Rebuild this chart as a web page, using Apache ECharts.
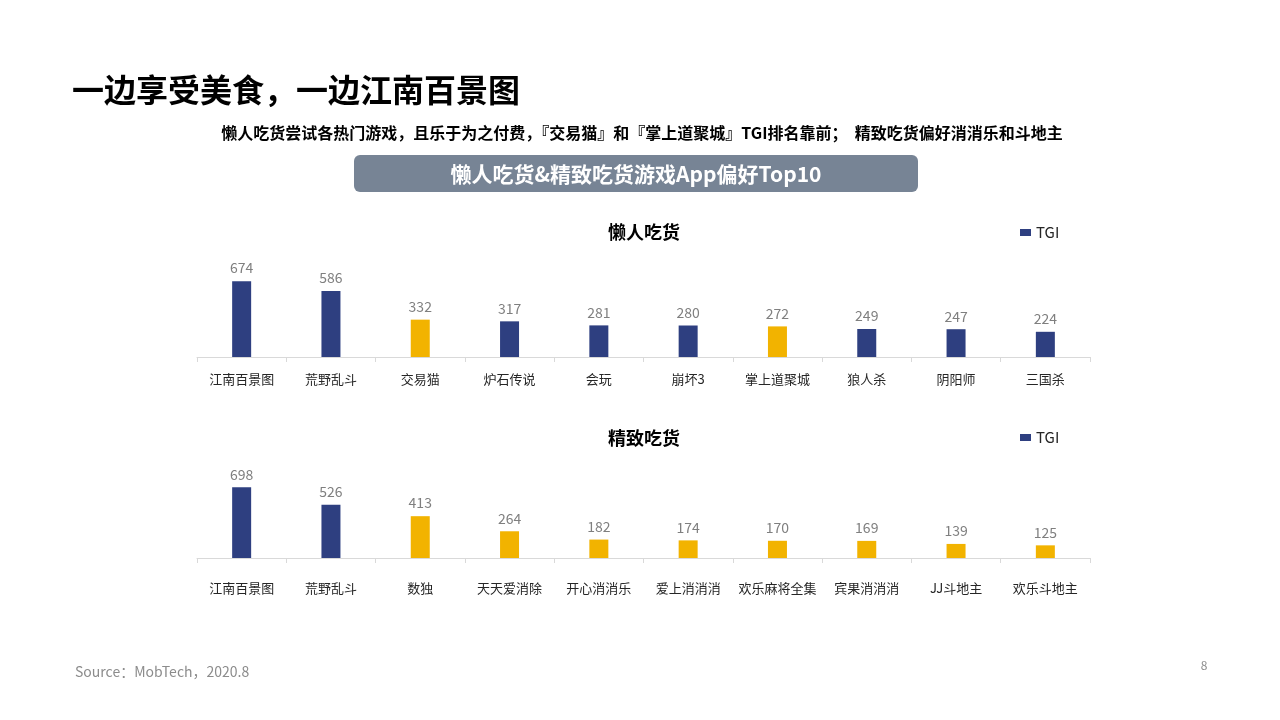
<!DOCTYPE html>
<html><head><meta charset="utf-8">
<script src="https://cdn.jsdelivr.net/npm/echarts@6/dist/echarts.min.js"></script>
<style>html,body{margin:0;padding:0;background:#fff;}#c{width:1280px;height:720px;}</style>
</head><body><div id="c"></div>
<script>
const lazyCats = ['江南百景图','荒野乱斗','交易猫','炉石传说','会玩','崩坏3','掌上道聚城','狼人杀','阴阳师','三国杀'];
const lazyTGI = [674,586,332,317,281,280,272,249,247,224];
const lazyHighlight = [false,false,true,false,false,false,true,false,false,false];
const fineCats = ['江南百景图','荒野乱斗','数独','天天爱消除','开心消消乐','爱上消消消','欢乐麻将全集','宾果消消消','JJ斗地主','欢乐斗地主'];
const fineTGI = [698,526,413,264,182,174,170,169,139,125];
const fineHighlight = [false,false,true,true,true,true,true,true,true,true];

const NAVY = '#2E3F80', GOLD = '#F2B300';
const FONT = '"Noto Sans CJK SC", "Noto Sans", sans-serif';
const chart = echarts.init(document.getElementById('c'));

function mkData(vals, hl){
  return vals.map((v,i)=>({value:v, itemStyle:{color: hl[i]?GOLD:NAVY}}));
}
function xAx(idx, cats, margin){
  return {type:'category', gridIndex:idx, data:cats,
    axisLine:{lineStyle:{color:'#D9D9D9', width:1}},
    axisTick:{show:true, length:5, lineStyle:{color:'#D9D9D9'}},
    axisLabel:{color:'#262626', fontSize:13, margin:margin, fontFamily:FONT, interval:0}};
}
function yAx(idx){
  return {type:'value', gridIndex:idx, min:0, max:800, show:false, splitLine:{show:false}};
}
function ser(idx, vals, hl){
  return {type:'bar', name:'TGI', xAxisIndex:idx, yAxisIndex:idx, barWidth:19,
    itemStyle:{color:NAVY}, data:mkData(vals,hl),
    label:{show:true, position:'top', distance:6, color:'#7F7F7F', fontSize:14, fontFamily:FONT}};
}

chart.setOption({
  animation:false,
  textStyle:{fontFamily:FONT},
  title:[
    {text:'懒人吃货', left:639, top:218, textAlign:'center', textStyle:{fontSize:18, fontWeight:'bold', color:'#000', fontFamily:FONT}},
    {text:'精致吃货', left:639, top:424, textAlign:'center', textStyle:{fontSize:18, fontWeight:'bold', color:'#000', fontFamily:FONT}}
  ],
  legend:[
    {data:['TGI'], left:1015, top:220, icon:'rect', itemWidth:11, itemHeight:7, itemGap:6,
     textStyle:{fontSize:15, color:'#262626', fontFamily:FONT}},
    {data:['TGI'], left:1015, top:425, icon:'rect', itemWidth:11, itemHeight:7, itemGap:6,
     textStyle:{fontSize:15, color:'#262626', fontFamily:FONT}}
  ],
  grid:[
    {left:197, right:190, top:267, height:90},
    {left:197, right:190, top:477, height:81}
  ],
  xAxis:[xAx(0, lazyCats, 16), xAx(1, fineCats, 24)],
  yAxis:[yAx(0), yAx(1)],
  series:[ser(0, lazyTGI, lazyHighlight), ser(1, fineTGI, fineHighlight)],
  graphic:[
    {type:'text', x:72, y:90, style:{text:'一边享受美食，一边江南百景图', font:'bold 32px '+FONT, fill:'#000', textVerticalAlign:'middle'}},
    {type:'text', x:642, y:133, style:{text:'懒人吃货尝试各热门游戏，且乐于为之付费，『交易猫』和『掌上道聚城』TGI排名靠前；  精致吃货偏好消消乐和斗地主', font:'bold 16px '+FONT, fill:'#000', textAlign:'center', textVerticalAlign:'middle'}},
    {type:'rect', shape:{x:354, y:155, width:564, height:37, r:6}, style:{fill:'#778495'}},
    {type:'text', x:636, y:174, style:{text:'懒人吃货&精致吃货游戏App偏好Top10', font:'bold 21px '+FONT, fill:'#fff', textAlign:'center', textVerticalAlign:'middle'}},
    {type:'text', x:75, y:672, style:{text:'Source：MobTech，2020.8', font:'14px '+FONT, fill:'#8C8C8C', textVerticalAlign:'middle'}},
    {type:'text', x:1204, y:665, style:{text:'8', font:'12px '+FONT, fill:'#8C8C8C', textAlign:'center', textVerticalAlign:'middle'}}
  ]
});
</script></body></html>
